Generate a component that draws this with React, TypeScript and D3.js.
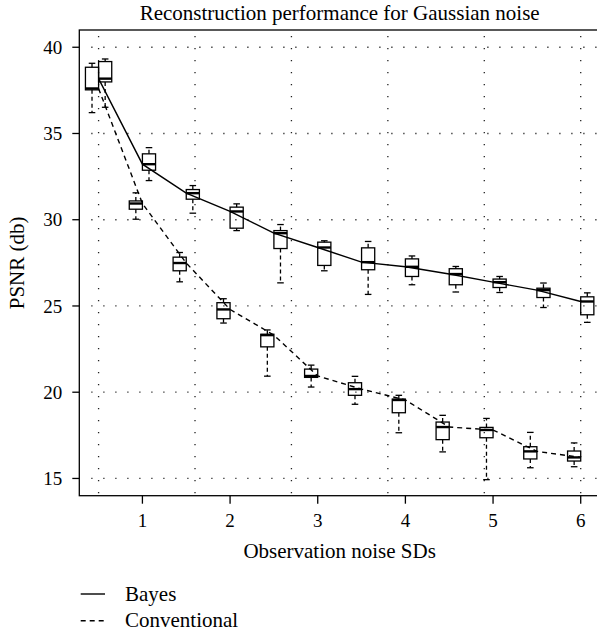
import * as d3 from "d3";

// x positions of the noise levels (box groups)
const noiseSDs = [0.5, 1, 1.5, 2, 2.5, 3, 3.5, 4, 4.5, 5, 5.5, 6];

// five-number summaries per noise level: [lower whisker, q1, median, q3, upper whisker]
const bayesStats = [
  [36.52, 37.99, 38.18, 39.17, 39.32],
  [32.27, 32.87, 33.22, 33.82, 34.18],
  [30.38, 31.19, 31.54, 31.75, 31.98],
  [29.37, 29.51, 30.48, 30.73, 30.92],
  [26.34, 28.33, 29.22, 29.37, 29.72],
  [27.04, 27.35, 28.39, 28.7, 28.78],
  [25.67, 27.1, 27.54, 28.37, 28.74],
  [26.23, 26.71, 27.27, 27.73, 27.9],
  [25.81, 26.23, 26.85, 27.16, 27.29],
  [25.78, 26.07, 26.38, 26.56, 26.71],
  [24.91, 25.49, 25.92, 26.03, 26.33],
  [24.05, 24.49, 25.26, 25.53, 25.76],
];

const conventionalStats = [
  [36.21, 37.53, 37.61, 38.84, 39.07],
  [30.03, 30.61, 30.94, 31.09, 31.56],
  [26.4, 27.04, 27.49, 27.83, 28.1],
  [24.01, 24.26, 24.8, 25.19, 25.42],
  [20.93, 22.63, 23.31, 23.36, 23.61],
  [20.3, 20.86, 20.94, 21.34, 21.57],
  [19.3, 19.82, 20.18, 20.55, 20.92],
  [17.65, 18.81, 19.55, 19.6, 19.82],
  [16.54, 17.25, 17.98, 18.27, 18.66],
  [14.93, 17.36, 17.81, 17.96, 18.48],
  [15.62, 16.13, 16.57, 16.84, 17.67],
  [15.68, 16.01, 16.22, 16.59, 17.06],
];

const xTicks = [1, 2, 3, 4, 5, 6];
const yTicks = [15, 20, 25, 30, 35, 40];
const xGrid = [0.5, 1.6, 2.7, 3.8, 4.9, 6.0];

const W = 597;
const H = 634;
const FONT = "'Liberation Serif', 'DejaVu Serif', serif";
const margin = { top: 30, left: 79.3, bottom: 495.7, right: 600 };
const BOX_W = 0.15;
const LABEL_SIZE = 21;
const TICK_SIZE = 19;

interface SeriesDef {
  name: string;
  stats: number[][];
  dash: string;
  side: -1 | 1;
}

const series: SeriesDef[] = [
  { name: "Bayes", stats: bayesStats, dash: "none", side: 1 },
  { name: "Conventional", stats: conventionalStats, dash: "5,4", side: -1 },
];

export default function App() {
  const x = d3.scaleLinear().domain([0.28, 6.22]).range([margin.left, margin.right]);
  const y = d3.scaleLinear().domain([14, 41]).range([margin.bottom, margin.top]);

  const line = d3
    .line<number[]>()
    .x((d) => x(d[0]))
    .y((d) => y(d[1]));

  const midX = (margin.left + margin.right) / 2;

  return (
    <svg
      width={W}
      height={H}
      style={{ position: "absolute", left: 0, top: 0, background: "#fff" }}
      fontFamily={FONT}
    >
      {/* grid */}
      <g stroke="#222" strokeWidth={1.3} strokeDasharray="1.2,10.8" fill="none">
        {yTicks.map((t) => (
          <line key={"h" + t} x1={margin.left + 12} x2={margin.right} y1={y(t)} y2={y(t)} />
        ))}
        {xGrid.map((g) => (
          <line key={"v" + g} x1={x(g)} x2={x(g)} y1={margin.top + 6} y2={margin.bottom} />
        ))}
      </g>

      {/* median lines */}
      {series.map((s) => (
        <path
          key={s.name}
          d={line(noiseSDs.map((p, i) => [p, s.stats[i][2]]))!}
          fill="none"
          stroke="#000"
          strokeWidth={1.4}
          strokeDasharray={s.dash}
        />
      ))}

      {/* boxplots */}
      {series.map((s) =>
        noiseSDs.map((p, i) => {
          const [lo, q1, med, q3, hi] = s.stats[i];
          const x0 = s.side > 0 ? x(p) : x(p - BOX_W);
          const x1 = s.side > 0 ? x(p + BOX_W) : x(p);
          const cx = (x0 + x1) / 2;
          const cap = (x1 - x0) / 4;
          return (
            <g key={s.name + p} stroke="#000" fill="none">
              <line x1={cx} x2={cx} y1={y(q3)} y2={y(hi)} strokeWidth={1.3} strokeDasharray="4,3" />
              <line x1={cx} x2={cx} y1={y(q1)} y2={y(lo)} strokeWidth={1.3} strokeDasharray="4,3" />
              <line x1={cx - cap} x2={cx + cap} y1={y(hi)} y2={y(hi)} strokeWidth={1.3} />
              <line x1={cx - cap} x2={cx + cap} y1={y(lo)} y2={y(lo)} strokeWidth={1.3} />
              <rect x={x0} y={y(q3)} width={x1 - x0} height={y(q1) - y(q3)} strokeWidth={1.3} />
              <line x1={x0} x2={x1} y1={y(med)} y2={y(med)} strokeWidth={2.4} />
            </g>
          );
        })
      )}

      {/* frame */}
      <rect
        x={margin.left}
        y={margin.top}
        width={margin.right - margin.left}
        height={margin.bottom - margin.top}
        fill="none"
        stroke="#000"
        strokeWidth={1.3}
      />

      {/* y axis */}
      {yTicks.map((t) => (
        <g key={"yt" + t}>
          <line x1={margin.left - 7} x2={margin.left} y1={y(t)} y2={y(t)} stroke="#000" strokeWidth={1.3} />
          <text x={margin.left - 17} y={y(t)} dy="0.35em" textAnchor="end" fontSize={TICK_SIZE}>
            {t}
          </text>
        </g>
      ))}

      {/* x axis */}
      {xTicks.map((t) => (
        <g key={"xt" + t}>
          <line x1={x(t)} x2={x(t)} y1={margin.bottom} y2={margin.bottom + 8} stroke="#000" strokeWidth={1.3} />
          <text x={x(t)} y={527} textAnchor="middle" fontSize={TICK_SIZE}>
            {t}
          </text>
        </g>
      ))}

      {/* titles */}
      <text x={midX} y={20} textAnchor="middle" fontSize={LABEL_SIZE}>
        Reconstruction performance for Gaussian noise
      </text>
      <text x={midX} y={558} textAnchor="middle" fontSize={LABEL_SIZE}>
        Observation noise SDs
      </text>
      <text
        transform={`translate(24,${(margin.top + margin.bottom) / 2}) rotate(-90)`}
        textAnchor="middle"
        fontSize={LABEL_SIZE}
      >
        PSNR (db)
      </text>

      {/* legend */}
      {series.map((s, i) => (
        <g key={"lg" + s.name}>
          <line
            x1={80.7}
            x2={105}
            y1={594 + i * 26.7}
            y2={594 + i * 26.7}
            stroke="#000"
            strokeWidth={1.4}
            strokeDasharray={s.dash}
          />
          <text x={125} y={600.5 + i * 26.7} fontSize={LABEL_SIZE}>
            {s.name}
          </text>
        </g>
      ))}
    </svg>
  );
}
